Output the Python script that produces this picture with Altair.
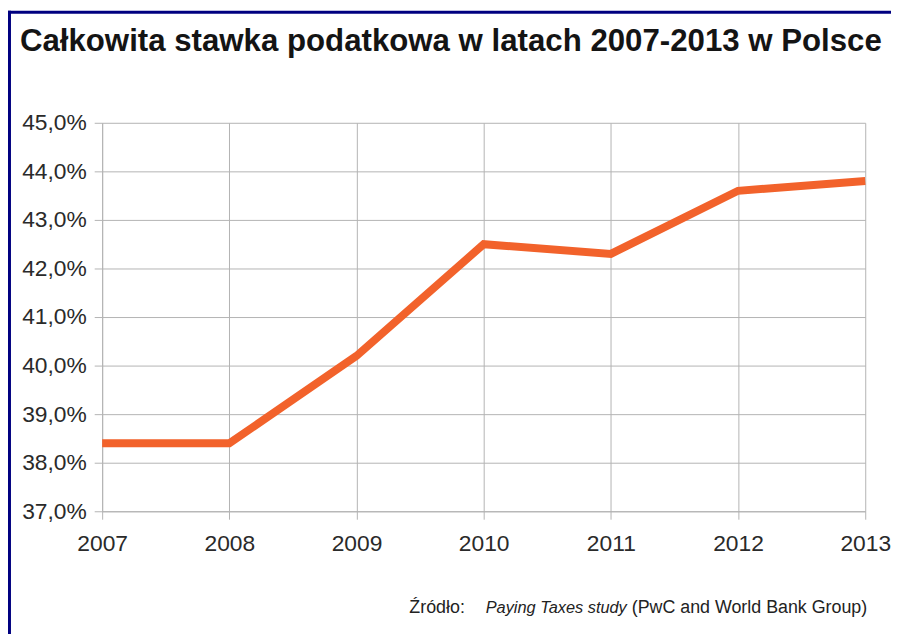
import altair as alt
import pandas as pd

years = [2007, 2008, 2009, 2010, 2011, 2012, 2013]
rates = [38.4, 38.4, 40.2, 42.5, 42.3, 43.6, 43.8]
y_ticks = [37, 38, 39, 40, 41, 42, 43, 44, 45]

title_text = "Całkowita stawka podatkowa w latach 2007-2013 w Polsce"
source_parts = ["Źródło:", "Paying Taxes study", "(PwC and World Bank Group)"]

df = pd.DataFrame({"year": years, "rate": rates})

FONT = "Liberation Sans"
GRID = "#b3b3b3"

base = alt.Chart(df)

line = base.mark_line(color="#f2622b", strokeWidth=8, strokeCap="butt", clip=False).encode(
    x=alt.X("year:Q",
            scale=alt.Scale(domain=[2007, 2013], nice=False, zero=False),
            axis=alt.Axis(values=years, format="d", title=None, grid=True,
                          gridColor=GRID, domainColor=GRID, tickColor=GRID,
                          tickSize=8, labelPadding=14, labelFontSize=23,
                          labelFont=FONT, labelColor="#2a2a2a",
                          labelFlush=False, labelOverlap=False)),
    y=alt.Y("rate:Q",
            scale=alt.Scale(domain=[37, 45], nice=False, zero=False),
            axis=alt.Axis(values=y_ticks, title=None, grid=True,
                          gridColor=GRID, domainColor=GRID, tickColor=GRID,
                          tickSize=8, labelPadding=8, labelFontSize=23,
                          labelFont=FONT, labelColor="#2a2a2a",
                          labelExpr="replace(format(datum.value, '.1f'), '.', ',') + '%'")),
)

title = alt.Chart(pd.DataFrame({"t": [title_text]})).mark_text(
    align="left", baseline="alphabetic", font=FONT, fontSize=31.5,
    fontWeight="bold", color="#141414"
).encode(text="t:N", x=alt.value(-83), y=alt.value(-72))

src1 = alt.Chart(pd.DataFrame({"t": [source_parts[0]]})).mark_text(
    align="left", baseline="alphabetic", font=FONT, fontSize=18, color="#222222"
).encode(text="t:N", x=alt.value(310), y=alt.value(495))
src2 = alt.Chart(pd.DataFrame({"t": [source_parts[1]]})).mark_text(
    align="left", baseline="alphabetic", font=FONT, fontSize=16.5, fontStyle="italic",
    color="#222222"
).encode(text="t:N", x=alt.value(387), y=alt.value(495))
src3 = alt.Chart(pd.DataFrame({"t": [source_parts[2]]})).mark_text(
    align="right", baseline="alphabetic", font=FONT, fontSize=18, color="#222222"
).encode(text="t:N", x=alt.value(772), y=alt.value(495))

left_border = alt.Chart(pd.DataFrame({"a": [0]})).mark_rule(
    color="#000080", strokeWidth=3
).encode(x=alt.value(-93.5), y=alt.value(-113), y2=alt.value(520))
top_border = alt.Chart(pd.DataFrame({"a": [0]})).mark_rule(
    color="#000080", strokeWidth=3
).encode(x=alt.value(-95), x2=alt.value(800), y=alt.value(-111.5))

chart = alt.layer(line, title, src1, src2, src3, left_border, top_border).properties(
    width=770, height=392,
    autosize=alt.AutoSizeParams(type="none"),
    padding={"left": 95, "top": 113, "right": 26, "bottom": 121},
    background="white",
).configure_view(stroke=None)

chart.save("out.html", embed_options={"renderer": "svg", "actions": False})
